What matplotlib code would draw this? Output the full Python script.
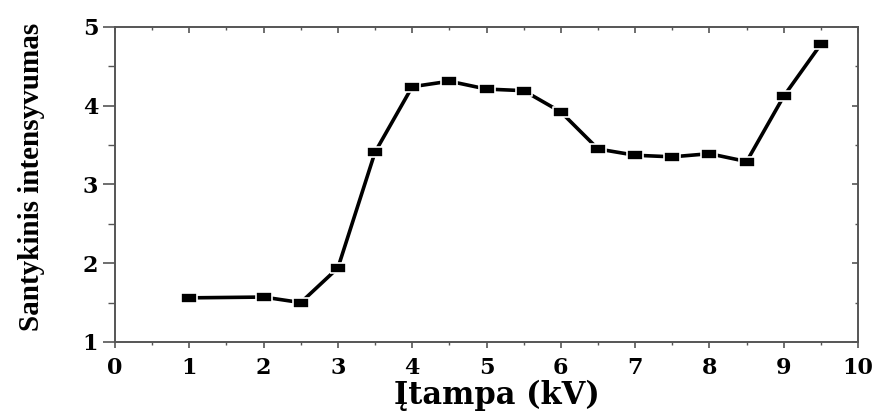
import numpy as np
import matplotlib.pyplot as plt

# įtampa (kV) ir santykinis intensyvumas
itampa = [1, 2, 2.5, 3, 3.5, 4, 4.5, 5, 5.5, 6, 6.5, 7, 7.5, 8, 8.5, 9, 9.5]
intensyvumas = [1.56, 1.57, 1.50, 1.94, 3.41, 4.24, 4.31, 4.21, 4.19, 3.92,
                3.45, 3.37, 3.35, 3.39, 3.29, 4.12, 4.78]
x_ticks = list(range(0, 11))
y_ticks = [1, 2, 3, 4, 5]

plt.rcParams['font.family'] = ['Liberation Serif', 'DejaVu Serif']

fig = plt.figure(figsize=(8.81, 4.13), dpi=100)
ax = fig.add_axes([0.1305, 0.172, 0.8435, 0.763])

# plačiai ištemptas stačiakampis žymeklis
rect = [(-1.5, -1), (1.5, -1), (1.5, 1), (-1.5, 1), (-1.5, -1)]
ax.plot(itampa, intensyvumas, color='black', linewidth=2.6,
        marker=rect, markersize=11, markerfacecolor='black',
        markeredgecolor='white', markeredgewidth=1.2)

ax.set_xlim(0, 10)
ax.set_ylim(1, 5)
ax.set_xticks(x_ticks)
ax.set_yticks(y_ticks)
ax.set_xticks(np.arange(0.5, 10, 1), minor=True)
ax.set_yticks(np.arange(1.5, 5, 1), minor=True)

for s in ax.spines.values():
    s.set_linewidth(1.4)
    s.set_color('#555555')

ax.tick_params(axis='y', which='major', direction='out', length=9, width=1.2,
               color='#555555', labelsize=16, pad=3)
ax.tick_params(axis='y', which='minor', direction='out', length=5, width=1.0,
               color='#555555')
ax.tick_params(axis='x', which='major', direction='out', length=4, width=1.2,
               color='#555555', labelsize=16, pad=7)
ax.tick_params(axis='x', which='minor', direction='out', length=2, width=1.0,
               color='#555555')
for lab in ax.get_xticklabels() + ax.get_yticklabels():
    lab.set_fontweight('bold')
    lab.set_family(['DejaVu Serif'])

# viršutinė ir dešinė ašys su vidinėmis žymėmis
top = ax.secondary_xaxis('top')
top.set_xticks(x_ticks)
top.set_xticks(np.arange(0.5, 10, 1), minor=True)
top.tick_params(which='major', direction='in', length=4, width=1.2,
                color='#555555', labeltop=False)
top.tick_params(which='minor', direction='in', length=2, width=1.0,
                color='#555555')
top.spines['top'].set_visible(False)

right = ax.secondary_yaxis('right')
right.set_yticks(y_ticks)
right.set_yticks(np.arange(1.5, 5, 1), minor=True)
right.tick_params(which='major', direction='in', length=4, width=1.2,
                  color='#555555', labelright=False)
right.tick_params(which='minor', direction='in', length=2, width=1.0,
                  color='#555555')
right.spines['right'].set_visible(False)

ax.set_xlabel('Įtampa (kV)', fontsize=22, fontweight='bold',
              family=['DejaVu Serif'])
ax.xaxis.set_label_coords(0.514, -0.12)
ax.set_ylabel('Santykinis intensyvumas', fontsize=21, fontweight='bold')
ax.yaxis.set_label_coords(-0.094, 0.524)

plt.savefig('out.png', dpi=100)
